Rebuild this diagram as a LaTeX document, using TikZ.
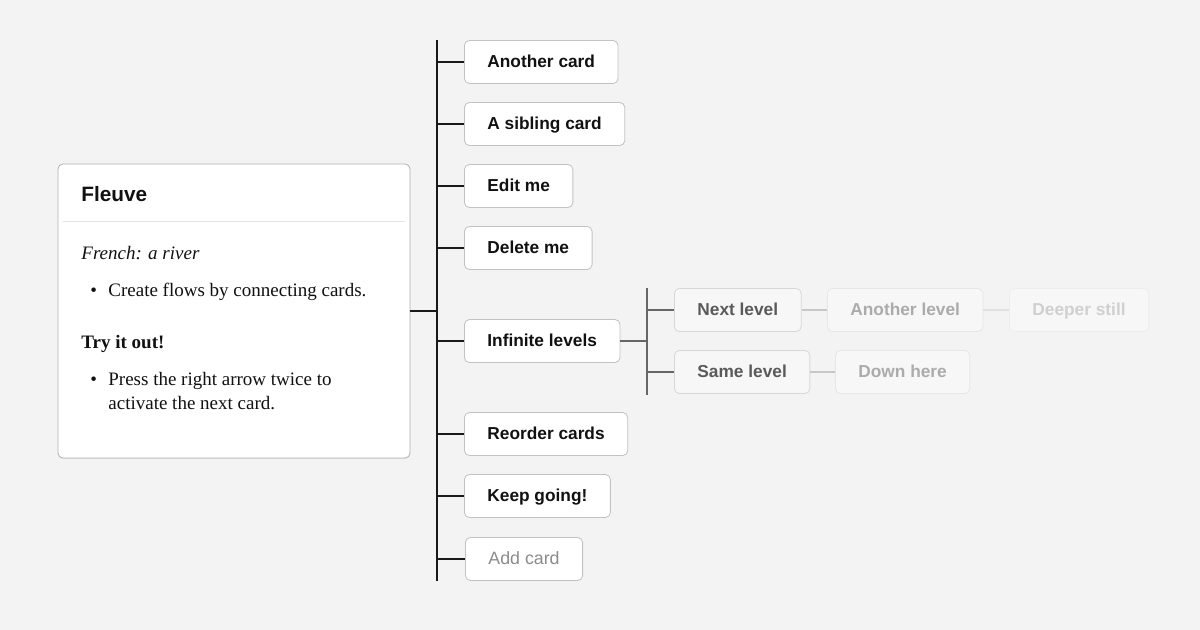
\documentclass[tikz,border=0pt]{standalone}
\usepackage{fontspec}
\setmainfont{Liberation Serif}
\setsansfont{Liberation Sans}
\usetikzlibrary{
    positioning,
    calc,
    shadows
}

\definecolor{pagebg}{HTML}{F3F3F3}
\definecolor{cardline}{HTML}{C2C2C2}
\definecolor{sepline}{HTML}{E4E4E4}
\definecolor{inktext}{HTML}{111111}
\definecolor{lvlone}{HTML}{5A5A5A}
\definecolor{lvltwo}{HTML}{ABABAB}
\definecolor{lvlthree}{HTML}{D0D0D0}

\tikzset{
  card/.style={
    draw=cardline,
    fill=white,
    rounded corners=2.5pt,
    anchor=west,
    minimum height=21.5pt,
    inner xsep=11.5pt,
    text height=1.6ex,
    text depth=.3ex,
    text=inktext,
    font=\sffamily\bfseries\fontsize{8.65}{10.4}\selectfont
  },
  addcard/.style={
    card,
    font=\sffamily\fontsize{8.9}{10.4}\selectfont,
    text=gray!90
  },
  levelcard/.style={
    card,
    fill=white!35!pagebg,
    draw=#1!18!pagebg,
    text=#1
  },
  copy/.style={
    anchor=base west,
    inner sep=0pt,
    text=inktext,
    font=\fontsize{9.5}{11.4}\selectfont
  },
  trunkline/.style={line width=0.6pt, black!90},
  branchline/.style={line width=0.6pt, #1}
}

\begin{document}
\begin{tikzpicture}[x=0.5pt, y=-0.5pt]

  % page
  \fill[pagebg] (0,0) rectangle (1200,630);
  \useasboundingbox (0,0) rectangle (1200,630);

  % the open card {{{
  \node[
    draw=black!30,
    fill=white,
    rounded corners=2.5pt,
    minimum width=176pt,
    minimum height=147pt,
    drop shadow={opacity=0.12, shadow xshift=0pt, shadow yshift=-0.6pt}
  ] (fleuve) at (234,311) {};
  \node[copy, font=\sffamily\bfseries\fontsize{10.4}{12}\selectfont]
    (title) at (81,202) {Fleuve};
  \draw[sepline, line width=0.5pt]
    ($(fleuve.north west)+(5,58)$) -- ($(fleuve.north east)+(-5,58)$);
  \node[copy, font=\itshape\fontsize{9.5}{11.4}\selectfont]
    (meaning) at (81,260) {French: a river};
  \node[copy] (dotone) at (90,297) {\textbullet};
  \node[copy] (create) at (108,297) {Create flows by connecting cards.};
  \node[copy, font=\bfseries\fontsize{9.5}{11.4}\selectfont]
    (tryit) at (81,349) {Try it out!};
  \node[copy] (dottwo) at (90,386) {\textbullet};
  \node[copy] (press) at (108,386) {Press the right arrow twice to};
  \node[copy] (activate) at (108,410) {activate the next card.};
  % }}}

  % first column {{{
  \node[card] (another)  at (464,62)  {Another card};
  \node[card] (sibling)  at (464,124) {A sibling card};
  \node[card] (edit)     at (464,186) {Edit me};
  \node[card] (delete)   at (464,248) {Delete me};
  \node[card] (infinite) at (464,341) {Infinite levels};
  \node[card] (reorder)  at (464,434) {Reorder cards};
  \node[card] (keep)     at (464,496) {Keep going!};
  \node[addcard] (add)   at (465,559) {Add card};

  \coordinate (trunk) at (437,311);
  \coordinate (trunktop) at (437,40);
  \coordinate (trunkbottom) at (437,581);
  \draw[trunkline] (fleuve.east) -- (trunk);
  \draw[trunkline] (trunktop) -- (trunkbottom);
  \foreach \c in {another, sibling, edit, delete, infinite, reorder, keep, add}
    \draw[trunkline] (trunk |- \c.west) -- (\c.west);
  % }}}

  % deeper levels {{{
  \node[levelcard=lvlone]   (next)    at (674,310) {Next level};
  \node[levelcard=lvltwo]   (anlevel) at (827,310) {Another level};
  \node[levelcard=lvlthree] (deeper)  at (1009,310) {Deeper still};
  \node[levelcard=lvlone]   (same)    at (674,372) {Same level};
  \node[levelcard=lvltwo]   (down)    at (835,372) {Down here};

  \coordinate (fork) at (647,341);
  \coordinate (forktop) at (647,288);
  \coordinate (forkbottom) at (647,395);
  \draw[branchline=black!60] (infinite.east) -- (fork);
  \draw[branchline=black!60] (forktop) -- (forkbottom);
  \draw[branchline=black!60] (fork |- next.west) -- (next.west);
  \draw[branchline=black!60] (fork |- same.west) -- (same.west);
  \draw[branchline=black!22] (next.east) -- (anlevel.west);
  \draw[branchline=black!12] (anlevel.east) -- (deeper.west);
  \draw[branchline=black!22] (same.east) -- (down.west);
  % }}}

\end{tikzpicture}
\end{document}
